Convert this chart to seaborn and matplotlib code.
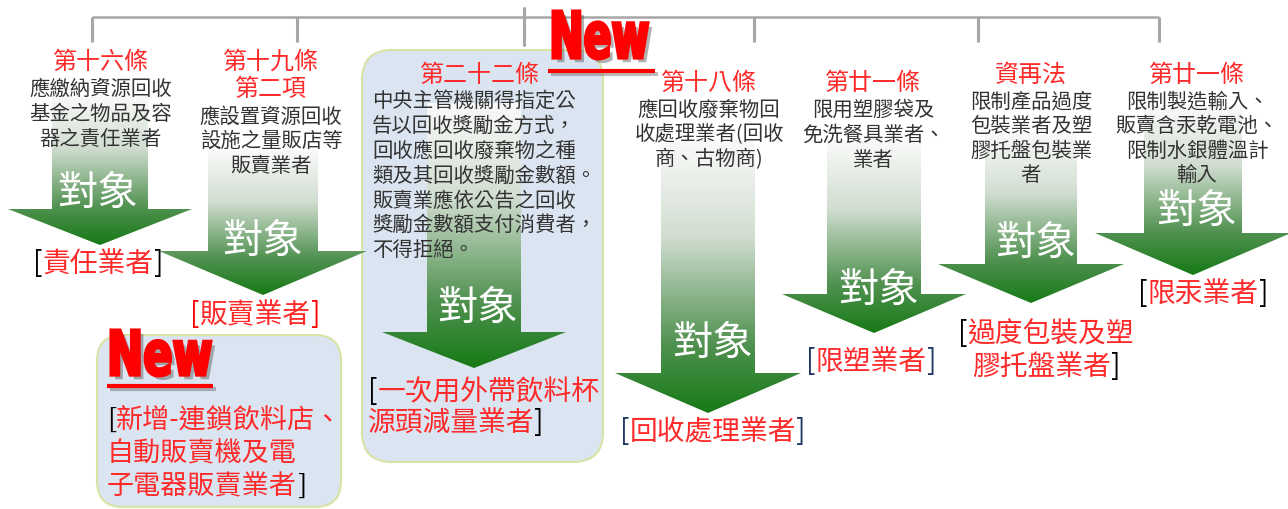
import numpy as np
import matplotlib
matplotlib.use("Agg")
import matplotlib.pyplot as plt
import seaborn as sns
from matplotlib.patches import Polygon, FancyBboxPatch, PathPatch
from matplotlib.textpath import TextPath
from matplotlib.font_manager import FontProperties
from matplotlib.transforms import Affine2D
import matplotlib.patheffects as pe

sns.set_style("white")
plt.rcParams['font.family'] = ['Noto Sans CJK TC', 'DejaVu Sans']

# ---------------- data ----------------
articles = [["第十六條"], ["第十九條", "第二項"], ["第二十二條"], ["第十八條"],
            ["第廿一條"], ["資再法"], ["第廿一條"]]
descriptions = [
    ["應繳納資源回收", "基金之物品及容", "器之責任業者"],
    ["應設置資源回收", "設施之量販店等", "販賣業者"],
    ["中央主管機關得指定公", "告以回收獎勵金方式，", "回收應回收廢棄物之種",
     "類及其回收獎勵金數額。", "販賣業應依公告之回收", "獎勵金數額支付消費者，", "不得拒絕。"],
    ["應回收廢棄物回", "收處理業者(回收", "商、古物商)"],
    ["限用塑膠袋及", "免洗餐具業者、", "業者"],
    ["限制產品過度", "包裝業者及塑", "膠托盤包裝業", "者"],
    ["限制製造輸入、", "販賣含汞乾電池、", "限制水銀體溫計", "輸入"],
]
targets = [["責任業者"], ["販賣業者"], ["一次用外帶飲料杯", "源頭減量業者"],
           ["回收處理業者"], ["限塑業者"], ["過度包裝及塑", "膠托盤業者"], ["限汞業者"]]
target_word = "對象"
new_word = "New"
new_scope = ["新增-連鎖飲料店、", "自動販賣機及電", "子電器販賣業者"]

# ---------------- layout (pixels) ----------------
W, H = 1288, 509
text_cx = [101, 271, 372, 709, 873, 1031, 1197]
title_y = [[60], [60, 87], [73], [81], [81], [73], [73]]
desc_y0 = [87, 115, 100, 108, 108, 100, 100]
desc_dy = [25, 24.5, 24.7, 25, 25, 24.5, 24.5]
# arrow: cx, shaft half width, head half width, shaft top, head base, tip
arrows = [(100, 48, 92, 95, 209, 245),
          (263, 55, 104, 150, 251, 295),
          (474, 47, 92, 103, 332, 368),
          (708, 47, 93, 140, 373, 413),
          (874, 47, 92, 140, 294, 333),
          (1031, 46, 93, 133, 264, 303),
          (1193, 49, 98, 105, 233, 275)]
word_pos = [(97, 190), (262, 238), (477, 305), (712, 340), (878, 287), (1035, 240), (1196, 208)]
target_pos = [(98, [262]), (255, [313]), (368, [390, 421]), (713, [430]),
              (871, [360]), (1046, [332, 365]), (1203, [292])]
bracket_col = ["black", "red", "black", "#1f3864", "#1f3864", "black", "black"]

RED = "#ff2a2a"
DESC = "#333333"
WEIGHT = "light"

fig = plt.figure(figsize=(W / 100, H / 100), dpi=100)
ax = fig.add_axes([0, 0, 1, 1])
ax.set_xlim(0, W)
ax.set_ylim(H, 0)
ax.axis("off")
renderer = fig.canvas.get_renderer()

PX = 100 / 72.0


def text_c(x, y, s, size, color, ha="center", z=5):
    em = size * PX
    ax.text(x, y + 0.37 * em, s, fontsize=size, color=color, ha=ha, va="baseline",
            zorder=z, fontweight=WEIGHT)


def rich(x, y, parts, size, ha="center", z=5):
    widths = []
    for s, c in parts:
        t = ax.text(0, 0, s, fontsize=size, fontweight=WEIGHT)
        widths.append(t.get_window_extent(renderer).width)
        t.remove()
    total = sum(widths)
    x0 = x - total / 2 if ha == "center" else x
    em = size * PX
    for (s, c), w in zip(parts, widths):
        ax.text(x0, y + 0.37 * em, s, fontsize=size, color=c, ha="left", va="baseline",
                zorder=z, fontweight=WEIGHT)
        x0 += w


# top bracket lines
gray = "#a6a6a6"
ax.plot([92, 1159], [17, 17], color=gray, lw=1.8, zorder=1, solid_capstyle="butt")
for xv in [92, 297, 754, 978, 1159]:
    ax.plot([xv, xv], [17, 42], color=gray, lw=2.2, zorder=1, solid_capstyle="butt")
ax.plot([524, 524], [8, 45], color=gray, lw=2.2, zorder=1)

# rounded boxes
box_fc, box_ec = "#dbe5f1", "#d7e4a4"
ax.add_patch(FancyBboxPatch((362 + 30, 50 + 30), 241 - 60, 412 - 60,
                            boxstyle="round,pad=30", fc=box_fc, ec=box_ec, lw=1.5, zorder=0.5))
ax.add_patch(FancyBboxPatch((97 + 26, 335 + 26), 244 - 52, 172 - 52,
                            boxstyle="round,pad=26", fc=box_fc, ec=box_ec, lw=1.5, zorder=0.5))

# gradient arrows
stops = np.array([0.0, 0.35, 0.75, 1.0])
cols = np.array([[250, 250, 249], [210, 222, 210], [80, 145, 80], [22, 122, 22]]) / 255.0
grad = np.linspace(0, 1, 300)
img = np.stack([np.interp(grad, stops, cols[:, k]) for k in range(3)], axis=1)
img = np.repeat(img[:, None, :], 2, axis=1)
for (cx, sw, hw, top, base, tip) in arrows:
    pts = [(cx - sw, top), (cx + sw, top), (cx + sw, base), (cx + hw, base),
           (cx, tip), (cx - hw, base), (cx - sw, base)]
    poly = Polygon(pts, closed=True, fc="none", ec="none")
    ax.add_patch(poly)
    im = ax.imshow(img, extent=(cx - hw, cx + hw, tip, top), origin="upper",
                   aspect="auto", zorder=2, interpolation="bilinear")
    im.set_clip_path(poly)
ax.set_xlim(0, W)
ax.set_ylim(H, 0)

# titles and descriptions
for i in range(7):
    for s, yy in zip(articles[i], title_y[i]):
        cx = 480 if i == 2 else text_cx[i]
        text_c(cx, yy, s, 17.3, RED)
    for j, s in enumerate(descriptions[i]):
        yy = desc_y0[i] + j * desc_dy[i]
        if i == 2:
            text_c(text_cx[i], yy, s, 14.7, DESC, ha="left")
        else:
            text_c(text_cx[i], yy, s, 14.7, DESC)

# target words inside arrows
for (x, y) in word_pos:
    text_c(x, y, target_word, 29, "white")

# targets with brackets
for i in range(7):
    x, ys = target_pos[i]
    lines = targets[i]
    ha = "left" if i == 2 else "center"
    for j, (s, yy) in enumerate(zip(lines, ys)):
        parts = []
        if j == 0:
            parts.append(("[", bracket_col[i]))
        parts.append((s, RED))
        if j == len(lines) - 1:
            parts.append(("]", bracket_col[i]))
        rich(x, yy, parts, 20, ha=ha)

# new scope text
ns_y = [418, 451, 484]
for j, (s, yy) in enumerate(zip(new_scope, ns_y)):
    parts = []
    if j == 0:
        parts.append(("[", "black"))
    parts.append((s, RED))
    if j == len(new_scope) - 1:
        parts.append(("]", "black"))
    rich(107, yy, parts, 19.5, ha="left")


# "New" badges
def new_badge(x0, x1, y0, y1, ux0, ux1, uy):
    fp = FontProperties(family=["Liberation Sans Narrow", "DejaVu Sans"], weight="bold")
    tp = TextPath((0, 0), new_word, size=100, prop=fp)
    ext = tp.get_extents()
    sx = (x1 - x0) / ext.width
    sy = (y1 - y0) / ext.height
    tr = Affine2D().translate(-ext.x0, -ext.y1).scale(sx, -sy).translate(x0, y0)
    path = tr.transform_path(tp)
    p = PathPatch(path, fc="#ff0000", ec="#ff0000", lw=2.2, joinstyle="miter", zorder=8,
                  path_effects=[pe.withSimplePatchShadow(offset=(3, -3), shadow_rgbFace="#555555", alpha=0.45)])
    ax.add_patch(p)
    ax.plot([ux0, ux1], [uy, uy], color="#ff0000", lw=3, zorder=8, solid_capstyle="butt",
            path_effects=[pe.SimpleLineShadow(offset=(2, -2), shadow_color="#555555", alpha=0.4), pe.Normal()])


new_badge(553, 648, 11, 59, 548, 655, 71)
new_badge(111, 211, 330, 376, 107, 213, 386)

fig.savefig("out.png", dpi=100)
